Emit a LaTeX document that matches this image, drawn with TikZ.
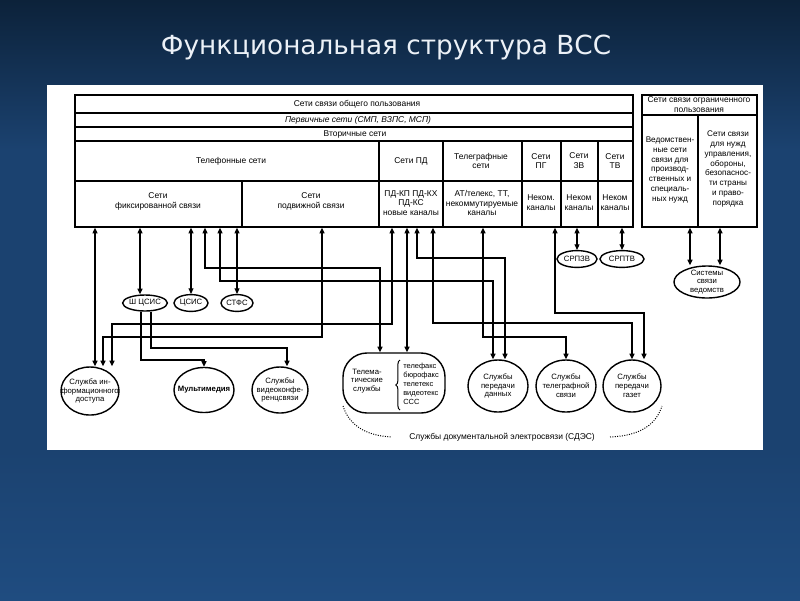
\documentclass[tikz,border=0pt]{standalone}
\usepackage{fontspec}
\setmainfont{Liberation Sans}
\newfontfamily\titlefont{DejaVu Sans}
\usetikzlibrary{arrows.meta,shapes.geometric,decorations.pathreplacing}
\definecolor{bgtop}{RGB}{12,34,58}
\definecolor{bgmid}{RGB}{27,66,112}
\definecolor{bgbot}{RGB}{31,76,128}
\definecolor{titlec}{RGB}{236,241,247}

\begin{document}
\begin{tikzpicture}[x=0.025cm,y=-0.025cm,
  txt/.style={font=\fontsize{6}{7}\selectfont,align=center,inner sep=0pt},
  svc/.style={font=\fontsize{5.5}{6.3}\selectfont,align=center,inner sep=0pt},
  box/.style={draw,line width=1.1pt,inner sep=0pt},
  rule/.style={line width=0.8pt},
  ell/.style={draw,ellipse,line width=1pt,inner sep=0pt,font=\fontsize{5.5}{6.3}\selectfont},
  lnk/.style={line width=0.8pt,{Triangle[length=4pt,width=3.6pt]}-{Triangle[length=4pt,width=3.6pt]}},
  feed/.style={line width=0.8pt,-{Triangle[length=4pt,width=3.6pt]}}]
\useasboundingbox (0,0) rectangle (800,600);
\fill[bgmid] (0,0) rectangle (800,600);
\shade[top color=bgtop,bottom color=bgmid] (0,0) rectangle (800,150);
\shade[top color=bgmid,bottom color=bgbot] (0,450) rectangle (800,600);
\fill[white] (47,85) rectangle (763,450);

\node[font=\titlefont\fontsize{18.7}{22}\selectfont,text=titlec,inner sep=0pt] (title) at (386,47) {Функциональная структура ВСС};

% networks of general use
\node[box,minimum width=13.95cm,minimum height=3.3cm] (pub) at (354,161) {};
\draw[rule] (75,113) -- (633,113) (75,127) -- (633,127) (75,141) -- (633,141) (75,181) -- (633,181);
\draw[rule] (242,181) -- (242,227);
\foreach \x in {379,443,522,561,598} \draw[rule] (\x,141) -- (\x,227);
\node[txt] (obsh) at (357,104) {Сети связи общего пользования};
\node[txt] (perv) at (358,120) {\itshape Первичные сети (СМП, ВЗПС, МСП)};
\node[txt] (vtor) at (355,134) {Вторичные сети};
\node[txt] (tlf) at (231,161) {Телефонные сети};
\node[txt] (fix) at (158,201) {Сети\\фиксированной связи};
\node[txt] (mob) at (311,201) {Сети\\подвижной связи};
\node[txt] (pdn) at (411,161) {Сети ПД};
\node[txt] (pdk) at (411,203) {ПД-КП ПД-КХ\\ПД-КС\\новые каналы};
\node[txt] (tgn) at (481,161) {Телеграфные\\сети};
\node[txt] (tgk) at (482,203) {АТ/телекс, ТТ,\\некоммутируемые\\каналы};
\node[txt] (pgn) at (541,161) {Сети\\ПГ};
\node[txt] (pgk) at (541,203) {Неком.\\каналы};
\node[txt] (zvn) at (579,161) {Сети\\ЗВ};
\node[txt] (zvk) at (579,203) {Неком\\каналы};
\node[txt] (tvn) at (615,161) {Сети\\ТВ};
\node[txt] (tvk) at (615,203) {Неком\\каналы};

% networks of limited use
\node[box,minimum width=2.875cm,minimum height=3.3cm] (ogr) at (699.5,161) {};
\draw[rule] (642,115) -- (757,115) (698,115) -- (698,227);
\node[txt] (ogrh) at (699,105) {Сети связи ограниченного\\пользования};
\node[svc,font=\fontsize{5.8}{7}\selectfont] (ved) at (670,170) {Ведомствен-\\ные сети\\связи для\\производ-\\ственных и\\специаль-\\ных нужд};
\node[svc,font=\fontsize{5.8}{7}\selectfont] (upr) at (728,169) {Сети связи\\для нужд\\управления,\\обороны,\\безопаснос-\\ти страны\\и право-\\порядка};

% systems
\node[ell,minimum width=1.05cm,minimum height=0.4cm] (shcsis) at (145,303) {Ш ЦСИС};
\node[ell,minimum width=0.85cm,minimum height=0.42cm] (csis) at (191,303) {ЦСИС};
\node[ell,minimum width=0.8cm,minimum height=0.42cm] (stfs) at (237,303) {СТФС};
\node[ell,minimum width=1.0cm,minimum height=0.42cm] (srpzv) at (577,259) {СРПЗВ};
\node[ell,minimum width=1.1cm,minimum height=0.42cm] (srptv) at (622,259) {СРПТВ};
\node[ell,minimum width=1.65cm,minimum height=0.8cm] (sved) at (707,282) {};
\node[svc] (svedT) at (sved) {Системы\\связи\\ведомств};

% services
\node[ell,minimum width=1.45cm,minimum height=1.2cm] (inf) at (90,391) {};
\node[svc] (infT) at (inf) {Служба ин-\\формационного\\доступа};
\node[ell,minimum width=1.5cm,minimum height=1.125cm] (mm) at (204,390) {};
\node[svc,font=\fontsize{5.5}{6.3}\selectfont\bfseries] (mmT) at (mm) {Мультимедия};
\node[ell,minimum width=1.4cm,minimum height=1.15cm] (vks) at (280,390) {};
\node[svc] (vksT) at (vks) {Службы\\видеоконфе-\\ренцсвязи};
\node[draw,line width=1pt,rounded corners=0.6cm,minimum width=2.55cm,minimum height=1.5cm] (tele) at (394,383) {};
\node[svc] (teleT) at (367,381) {Телема-\\тические\\службы};
\node[svc,align=left,anchor=west,font=\fontsize{5.3}{6.3}\selectfont] (teleL) at (403,384) {телефакс\\бюрофакс\\телетекс\\видеотекс\\ССС};
\draw[line width=0.7pt,decorate,decoration={brace,amplitude=3pt}] (400,410) -- (400,360);
\node[ell,minimum width=1.5cm,minimum height=1.3cm] (pd) at (498,386) {};
\node[svc] (pdT) at (pd) {Службы\\передачи\\данных};
\node[ell,minimum width=1.5cm,minimum height=1.3cm] (tg) at (566,386) {};
\node[svc] (tgT) at (tg) {Службы\\телеграфной\\связи};
\node[ell,minimum width=1.45cm,minimum height=1.3cm] (gaz) at (632,386) {};
\node[svc] (gazT) at (gaz) {Службы\\передачи\\газет};
\node[txt] (sdes) at (502,437) {Службы документальной электросвязи (СДЭС)};
\draw[line width=0.7pt,densely dotted] (343,406) .. controls (350,428) and (370,436) .. (392,437);
\draw[line width=0.7pt,densely dotted] (610,437) .. controls (635,436) and (655,428) .. (662,406);

% links
\draw[lnk] (95,0 |- pub.south) -- (95,0 |- inf.north);
\draw[lnk] (140,0 |- pub.south) -- (140,0 |- shcsis.north);
\draw[lnk] (csis.north |- pub.south) -- (csis.north);
\draw[lnk] (205,0 |- pub.south) -- (205,268) -| (380,0 |- tele.north);
\draw[lnk] (220,0 |- pub.south) -- (220,281) -| (493,0 |- pd.north);
\draw[lnk] (stfs.north |- pub.south) -- (stfs.north);
\draw[lnk] (322,0 |- pub.south) -- (322,337) -| (103,0 |- inf.north);
\draw[lnk] (392,0 |- pub.south) -- (392,324) -| (112,0 |- inf.north);
\draw[lnk] (407,0 |- pub.south) -- (407,0 |- tele.north);
\draw[lnk] (417,0 |- pub.south) -- (417,258) -| (505,0 |- pd.north);
\draw[lnk] (433,0 |- pub.south) -- (433,323) -| (632,0 |- gaz.north);
\draw[lnk] (483,0 |- pub.south) -- (483,337) -| (tg.north);
\draw[lnk] (555,0 |- pub.south) -- (555,313) -| (644,0 |- gaz.north);
\draw[lnk] (srpzv.north |- pub.south) -- (srpzv.north);
\draw[lnk] (srptv.north |- pub.south) -- (srptv.north);
\draw[lnk] (690,0 |- ogr.south) -- (690,0 |- sved.north);
\draw[lnk] (720,0 |- ogr.south) -- (720,0 |- sved.north);
\draw[feed] (141,0 |- shcsis.south) -- (141,360) -| (mm.north);
\draw[feed] (151,0 |- shcsis.south) -- (151,348) -| (287,0 |- vks.north);
\end{tikzpicture}
\end{document}
